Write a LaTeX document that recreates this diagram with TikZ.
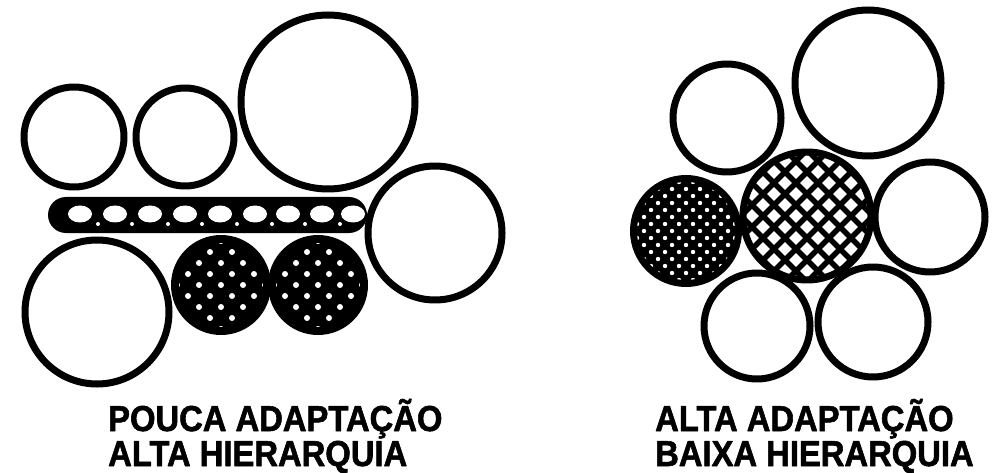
\documentclass[tikz,border=0pt]{standalone}
\usepackage{fontspec}
\usepackage{tikz}
\usetikzlibrary{calc,shapes}
\newfontfamily\fonteRotulo{Liberation Sans}[FakeStretch=0.91,FakeBold=1.6]

\begin{document}
\begin{tikzpicture}[x=1pt,y=-1pt,line join=round]
  \tikzstyle{vazio}=[circle,
                     draw=black,
                     line width=7pt,
                     fill=white,
                     inner sep=0pt]
  \tikzstyle{grade}=[circle,
                     draw=black,
                     line width=7pt,
                     fill=white,
                     inner sep=0pt,
                     path picture={
                       \coordinate (pc) at (path picture bounding box.center);
                       \foreach \k in {-6,...,6} {
                         \draw[line width=5.5pt] ($(pc)+(\k*22-100,-100)$) -- ++(200,200);
                         \draw[line width=5.5pt] ($(pc)+(\k*22-100,100)$) -- ++(200,-200);
                       }}]
  \tikzset{pontos/.style n args={3}{circle,
                     fill=black,
                     inner sep=0pt,
                     path picture={
                       \coordinate (pc) at (path picture bounding box.center);
                       \clip (pc) circle (#1);
                       \foreach \i in {-8,...,8}
                         \foreach \j in {-8,...,8}
                           \fill[white] ($(pc)+({(\i+\j)*#2},{(\i-\j)*#2})$) circle (#3);
                     }}}
  \tikzstyle{barra}=[rectangle,
                     rounded corners=18pt,
                     fill=black,
                     minimum width=319pt,
                     minimum height=36pt,
                     inner sep=0pt]
  \tikzstyle{furo}=[ellipse,fill=white,minimum width=24pt,minimum height=17pt,inner sep=0pt]
  \tikzstyle{pingo}=[circle,fill=white,minimum size=4pt,inner sep=0pt]
  \tikzstyle{rotulo}=[anchor=base west,inner sep=0pt,
                      font=\fonteRotulo\bfseries\fontsize{36}{36}\selectfont]

  \useasboundingbox (0,0) rectangle (993,473);

  %Grupo esquerdo: circulos vazios
  \node[vazio,minimum size=174pt] (c1) at (328,102) {};
  \node[vazio,minimum size=100pt] (a1) at (74,137) {};
  \node[vazio,minimum size=98pt]  (b1) at (185,137) {};
  \node[vazio,minimum size=134pt] (d1) at (435,233) {};
  \node[vazio,minimum size=144pt] (e1) at (97,312) {};
  %Barra com furos
  \node[barra] (barra1) at (207.5,215) {};
  \foreach \x [count=\k] in {80,115,150,185,220,255,288,322,353}
    \node[furo] (furo\k) at (\x,214) {};
  \foreach \x [count=\k] in {98,132,168,202,237,272,305,340}
    \node[pingo] (pingo\k) at (\x,224) {};
  %Circulos pontilhados
  \node[pontos={42}{11}{3},minimum size=100pt] (f1) at (221,285) {};
  \node[pontos={42}{11}{3},minimum size=100pt] (g1) at (318,285) {};

  %Grupo direito
  \node[vazio,minimum size=108pt] (h2) at (727,118) {};
  \node[vazio,minimum size=146pt] (i2) at (868,83) {};
  \node[vazio,minimum size=110pt] (l2) at (930,217) {};
  \node[vazio,minimum size=106pt] (m2) at (757,326) {};
  \node[vazio,minimum size=110pt] (n2) at (873,322) {};
  \node[pontos={49}{7}{2.2},minimum size=112pt] (j2) at (686,231) {};
  \node[grade,minimum size=128pt] (k2) at (807,216) {};

  %Rotulos
  \node[rotulo] (t1) at (108,431) {POUCA ADAPTAÇÃO};
  \node[rotulo] (t2) at (108,466) {ALTA HIERARQUIA};
  \node[rotulo] (t3) at (655,431) {ALTA ADAPTAÇÃO};
  \node[rotulo] (t4) at (655,466) {BAIXA HIERARQUIA};
\end{tikzpicture}
\end{document}
